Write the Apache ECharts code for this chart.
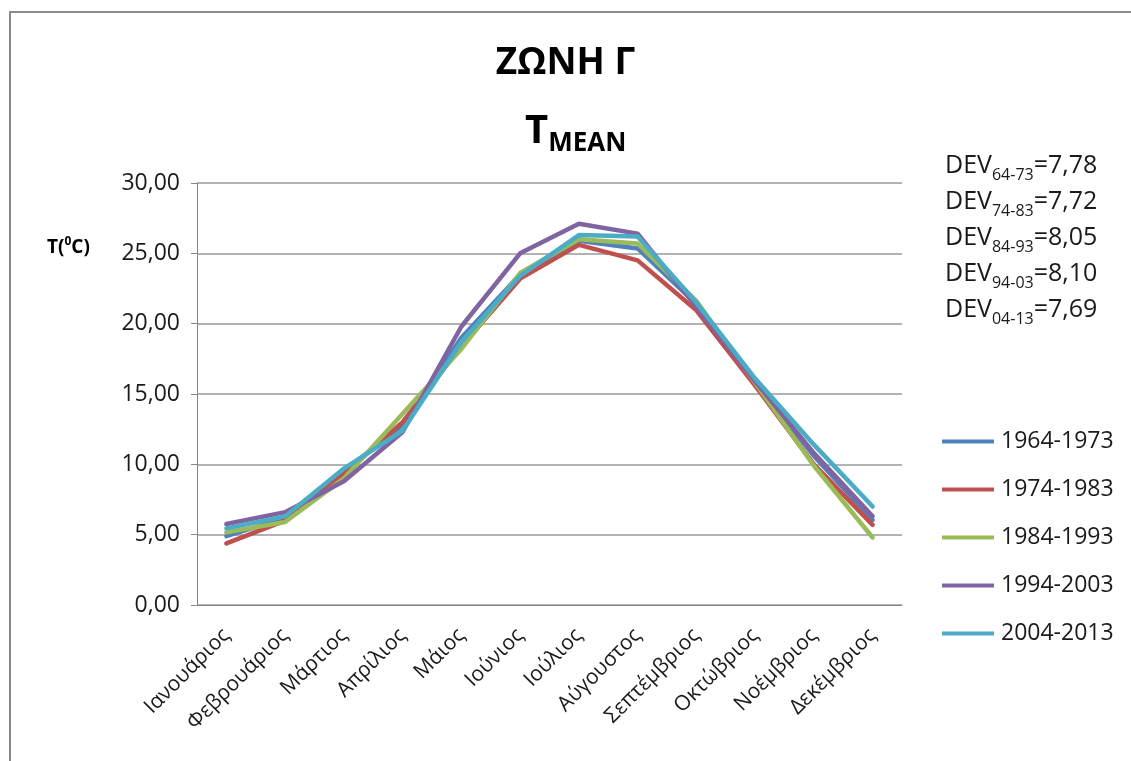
<!DOCTYPE html>
<html>
<head>
<meta charset="utf-8">
<script src="https://cdn.jsdelivr.net/npm/echarts@6/dist/echarts.min.js"></script>
<style>
  html, body { margin: 0; padding: 0; background: #fff; }
  #chart { width: 1131px; height: 761px; }
</style>
</head>
<body>
<div id="chart"></div>
<script>
// Monthly mean temperature per decade, zone Γ
const months = ['Ιανουάριος', 'Φεβρουάριος', 'Μάρτιος', 'Απρίλιος', 'Μάιος', 'Ιούνιος',
  'Ιούλιος', 'Αύγουστος', 'Σεπτέμβριος', 'Οκτώβριος', 'Νοέμβριος', 'Δεκέμβριος'];

const periods = ['1964-1973', '1974-1983', '1984-1993', '1994-2003', '2004-2013'];

const t1964_1973 = [4.90, 6.20, 9.50, 12.80, 19.00, 23.50, 25.90, 25.35, 21.40, 15.90, 10.60, 6.05];
const t1974_1983 = [4.38, 6.00, 9.30, 13.00, 18.40, 23.20, 25.60, 24.50, 20.95, 15.60, 10.00, 5.70];
const t1984_1993 = [5.17, 5.90, 9.00, 13.60, 18.20, 23.60, 26.00, 25.70, 21.60, 15.80, 9.90, 4.80];
const t1994_2003 = [5.76, 6.60, 8.80, 12.30, 19.80, 25.00, 27.10, 26.40, 21.20, 15.90, 10.80, 6.30];
const t2004_2013 = [5.45, 6.30, 9.70, 12.40, 18.70, 23.40, 26.30, 26.20, 21.50, 16.10, 11.40, 7.00];

// Standard deviation per decade
const devLabels = ['64-73', '74-83', '84-93', '94-03', '04-13'];
const devValues = ['7,78', '7,72', '8,05', '8,10', '7,69'];

const yTicks = { min: 0, max: 30, interval: 5 };

const colors = ['#4F81BD', '#C0504D', '#9BBB59', '#8064A2', '#4BACC6'];
const seriesData = [t1964_1973, t1974_1983, t1984_1993, t1994_2003, t2004_2013];

const FONT = '"Open Sans", "Noto Sans", sans-serif';

const chart = echarts.init(document.getElementById('chart'), null, { renderer: 'canvas' });

const devText = devLabels.map((d, i) => `{m|DEV}{s|${d}}{m|=${devValues[i]}}`).join('\n');

const option = {
  backgroundColor: '#ffffff',
  animation: false,
  color: colors,
  grid: { left: 197, right: 229, top: 183, bottom: 156, containLabel: false },
  legend: {
    orient: 'vertical',
    left: 937,
    top: 425,
    itemWidth: 52,
    itemHeight: 14,
    itemGap: 25,
    icon: 'path://M0,5 L52,5 L52,9 L0,9 Z',
    textStyle: { fontFamily: FONT, fontSize: 23, color: '#1a1a1a', padding: [0, 0, 0, 2] },
    data: periods
  },
  xAxis: {
    type: 'category',
    data: months,
    boundaryGap: true,
    axisLine: { show: true, lineStyle: { color: '#868686', width: 1 } },
    axisTick: { show: false },
    axisLabel: {
      rotate: 45,
      margin: 27,
      interval: 0,
      fontFamily: FONT,
      fontSize: 21,
      color: '#1a1a1a'
    }
  },
  yAxis: {
    type: 'value',
    min: yTicks.min,
    max: yTicks.max,
    interval: yTicks.interval,
    axisLine: { show: true, lineStyle: { color: '#868686', width: 1 } },
    axisTick: { show: true, length: 6, lineStyle: { color: '#868686' } },
    splitLine: { show: true, lineStyle: { color: '#9a9a9a', width: 1.5 } },
    axisLabel: {
      margin: 17,
      fontFamily: FONT,
      fontSize: 23,
      color: '#1a1a1a',
      formatter: v => v.toFixed(2).replace('.', ',')
    }
  },
  series: periods.map((p, i) => ({
    name: p,
    type: 'line',
    data: seriesData[i],
    symbol: 'none',
    lineStyle: { width: 4.5, color: colors[i], join: 'round', cap: 'round' },
    itemStyle: { color: colors[i] }
  })),
  graphic: [
    {
      type: 'rect',
      shape: { x: 10, y: 12, width: 1135, height: 760 },
      style: { fill: 'none', stroke: '#8a8a8a', lineWidth: 2 },
      silent: true,
      z: -10
    },
    {
      type: 'text',
      left: 'center',
      top: 45,
      style: {
        text: 'ΖΩΝΗ Γ',
        font: `bold 37px ${FONT}`,
        fill: '#000'
      }
    },
    {
      type: 'text',
      left: 525,
      top: 112,
      style: {
        text: '{t|T}{s|MEAN}',
        rich: {
          t: { font: `bold 40px ${FONT}`, fill: '#000' },
          s: { font: `bold 26px ${FONT}`, fill: '#000', padding: [24, 0, 0, 0] }
        }
      }
    },
    {
      type: 'text',
      left: 47,
      top: 236,
      style: {
        text: '{m|T(}{u|0}{m|C)}',
        rich: {
          m: { font: `bold 19px ${FONT}`, fill: '#000' },
          u: { font: `bold 12px ${FONT}`, fill: '#000', padding: [0, 0, 12, 0] }
        }
      }
    },
    {
      type: 'text',
      left: 945,
      top: 149,
      style: {
        text: devText,
        rich: {
          m: { font: `25px ${FONT}`, fill: '#1a1a1a', lineHeight: 36 },
          s: { font: `16px ${FONT}`, fill: '#1a1a1a', padding: [18, 0, 0, 0], lineHeight: 36 }
        }
      }
    }
  ]
};

chart.setOption(option);
</script>
</body>
</html>
